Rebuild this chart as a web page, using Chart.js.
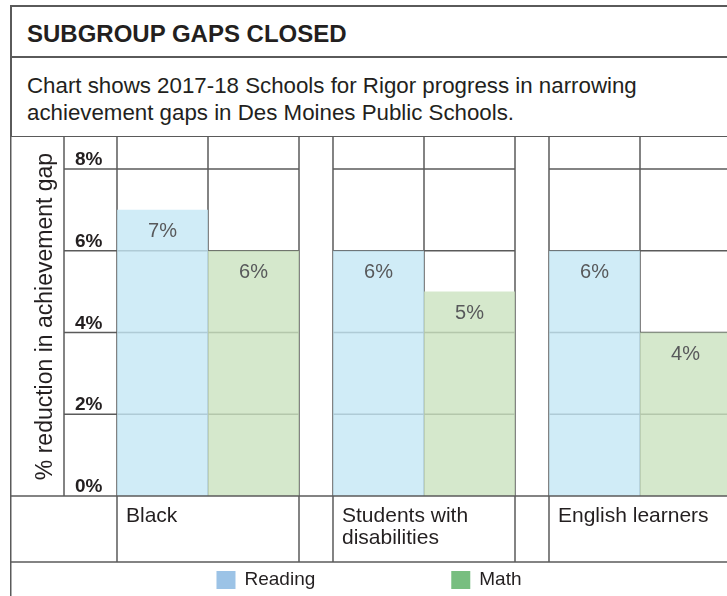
<!DOCTYPE html>
<html>
<head>
<meta charset="utf-8">
<script src="https://cdn.jsdelivr.net/npm/chart.js@4.4.1/dist/chart.umd.min.js"></script>
<style>
  html, body { margin: 0; padding: 0; background: #fff; overflow: hidden; width: 727px; height: 596px; }
  body { position: relative; font-family: "Liberation Sans", Arial, sans-serif; color: #231f20; }
  .rule { position: absolute; background: #5a5a5a; }
  #title { position: absolute; left: 27px; top: 22px; font-size: 24px; font-weight: bold; line-height: 24px; white-space: nowrap; }
  #subtitle { position: absolute; left: 27px; top: 72px; font-size: 22.3px; line-height: 27px; white-space: nowrap; }
  #chart { position: absolute; left: 0; top: 137px; }
</style>
</head>
<body>
<div class="rule" style="left:10px;top:5px;width:740px;height:1.5px"></div>
<div class="rule" style="left:10px;top:5px;width:1.5px;height:132px"></div>
<div class="rule" style="left:10px;top:56px;width:740px;height:1.5px"></div>
<div class="rule" style="left:10px;top:135.5px;width:740px;height:1.5px"></div>
<div id="title">SUBGROUP GAPS CLOSED</div>
<div id="subtitle">Chart shows 2017-18 Schools for Rigor progress in narrowing<br>achievement gaps in Des Moines Public Schools.</div>
<canvas id="chart" width="748" height="459"></canvas>
<script>
// data
var categories = ["Black", ["Students with", "disabilities"], "English learners"];
var reading = [7, 6, 6];
var math = [6, 5, 4];
var tickValues = [0, 2, 4, 6, 8];

var FONT = '"Liberation Sans", Arial, sans-serif';
var LINE = '#5a5a5a';
var Y_MAX = 8.78;
var TICK_COL_LEFT = 64;
var OUTER_LEFT = 10.75;

function seg(ctx, x0, y0, x1, y1) {
    ctx.beginPath();
    ctx.moveTo(x0, y0);
    ctx.lineTo(x1, y1);
    ctx.stroke();
}

// column edges of each category, taken from the bars themselves
function groupEdges(chart) {
    var r = chart.getDatasetMeta(0).data, m = chart.getDatasetMeta(1).data;
    return r.map(function (bar, i) {
        return {
            left: bar.x - bar.width / 2,
            mid: bar.x + bar.width / 2,
            right: m[i].x + m[i].width / 2
        };
    });
}

// the table lines behind the bars
var tableGrid = {
    id: 'tableGrid',
    beforeDatasetsDraw: function (chart) {
        var ctx = chart.ctx, area = chart.chartArea, y = chart.scales.y;
        var edges = groupEdges(chart);
        ctx.save();
        ctx.strokeStyle = LINE;
        ctx.lineWidth = 1.5;
        y.ticks.forEach(function (t) {
            if (t.value === 0) return;
            var py = y.getPixelForValue(t.value);
            edges.forEach(function (e, i) {
                seg(ctx, i === 0 ? TICK_COL_LEFT : e.left, py, e.right, py);
            });
        });
        seg(ctx, TICK_COL_LEFT, area.top, TICK_COL_LEFT, area.bottom);
        edges.forEach(function (e) {
            [e.left, e.mid, e.right].forEach(function (px) {
                seg(ctx, px, area.top, px, area.bottom);
            });
        });
        ctx.restore();
    },
    afterDatasetsDraw: function (chart) {
        var ctx = chart.ctx, area = chart.chartArea, x = chart.scales.x;
        var edges = groupEdges(chart);
        ctx.save();
        ctx.strokeStyle = LINE;
        ctx.lineWidth = 1.5;
        seg(ctx, OUTER_LEFT, area.bottom, chart.width, area.bottom);
        seg(ctx, OUTER_LEFT, x.bottom, chart.width, x.bottom);
        seg(ctx, OUTER_LEFT, 0, OUTER_LEFT, chart.height);
        edges.forEach(function (e) {
            seg(ctx, e.left, area.bottom, e.left, x.bottom);
            seg(ctx, e.right, area.bottom, e.right, x.bottom);
        });

        // value labels inside the bars
        ctx.font = '20px ' + FONT;
        ctx.fillStyle = '#58595b';
        ctx.textAlign = 'center';
        ctx.textBaseline = 'middle';
        chart.data.datasets.forEach(function (ds, di) {
            chart.getDatasetMeta(di).data.forEach(function (bar, i) {
                ctx.fillText(ds.data[i] + '%', bar.x, bar.y + 22);
            });
        });
        ctx.restore();
    },
    afterDraw: function (chart) {
        // legend row
        var ctx = chart.ctx, x = chart.scales.x;
        var box = 19, gap = 136;
        ctx.save();
        ctx.font = '19px ' + FONT;
        ctx.textBaseline = 'middle';
        ctx.textAlign = 'left';
        var items = chart.data.datasets.map(function (ds) {
            return { text: ds.label, color: ds.legendColor, w: box + 9 + ctx.measureText(ds.label).width };
        });
        var total = items[0].w + gap + items[1].w;
        var cx = chart.width / 2 - total / 2 - 5;
        var cy = x.bottom + 18;
        items.forEach(function (it) {
            ctx.fillStyle = it.color;
            ctx.fillRect(cx, cy - 9, box, 18);
            ctx.fillStyle = '#231f20';
            ctx.fillText(it.text, cx + box + 9, cy);
            cx += it.w + gap;
        });
        ctx.restore();
    }
};

new Chart(document.getElementById('chart'), {
    type: 'bar',
    data: {
        labels: categories,
        datasets: [{
            label: 'Reading',
            data: reading,
            backgroundColor: 'rgba(196, 231, 245, 0.8)',
            legendColor: '#9cc3e6',
            categoryPercentage: 0.8426,
            barPercentage: 1
        }, {
            label: 'Math',
            data: math,
            backgroundColor: 'rgba(202, 226, 191, 0.8)',
            legendColor: '#78be80',
            categoryPercentage: 0.8426,
            barPercentage: 1
        }]
    },
    options: {
        responsive: false,
        animation: false,
        layout: { autoPadding: false, padding: { left: 11, top: 0, right: 0, bottom: 34 } },
        plugins: { legend: { display: false }, tooltip: { enabled: false } },
        scales: {
            x: {
                grid: { display: false, drawTicks: false },
                border: { display: false },
                afterFit: function (s) { s.height = 66; s.paddingLeft = 0; s.paddingRight = 0; },
                ticks: {
                    align: 'start',
                    labelOffset: -82,
                    padding: 9,
                    maxRotation: 0,
                    autoSkip: false,
                    color: '#231f20',
                    font: { family: FONT, size: 21, lineHeight: 1.05 }
                }
            },
            y: {
                min: 0,
                max: Y_MAX,
                grid: { display: false, drawTicks: false },
                border: { display: false },
                afterBuildTicks: function (s) {
                    s.ticks = tickValues.map(function (v) { return { value: v }; });
                },
                afterFit: function (s) { s.width = 89; s.paddingTop = 0; s.paddingBottom = 0; },
                ticks: {
                    mirror: true,
                    padding: -25,
                    labelOffset: -9,
                    color: '#231f20',
                    font: { family: FONT, size: 19, weight: 'bold' },
                    callback: function (v) { return v + '%'; }
                },
                title: {
                    display: true,
                    text: '% reduction in achievement gap',
                    color: '#231f20',
                    font: { family: FONT, size: 23 },
                    padding: { top: 21, bottom: 0 }
                }
            }
        }
    },
    plugins: [tableGrid]
});
</script>
</body>
</html>
